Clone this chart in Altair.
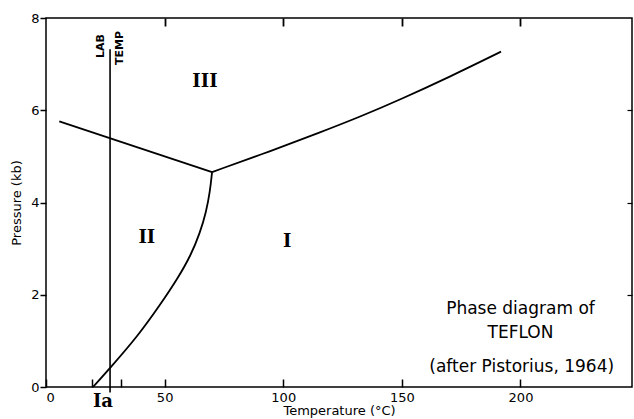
import altair as alt
import pandas as pd

# Phase boundaries (Temperature °C, Pressure kb)
t_ii_iii = [5.6, 70.0]
p_ii_iii = [5.76, 4.66]
t_iii_i = [70.0, 95.0, 115.5, 132.4, 149.2, 170.0, 191.8]
p_iii_i = [4.66, 5.12, 5.52, 5.86, 6.23, 6.72, 7.27]
t_ii_i = [19.8, 27.0, 38.8, 48.1, 55.6, 61.1, 64.9, 67.5, 69.1, 70.0]
p_ii_i = [0.0, 0.41, 1.11, 1.78, 2.36, 2.86, 3.34, 3.79, 4.23, 4.66]
t_lab = [27.0, 27.0]
p_lab = [-0.12, 7.32]

phase_labels = ["III", "II", "I", "Ia"]
phase_t = [67.0, 42.5, 101.7, 24.0]
phase_p = [6.61, 3.22, 3.14, -0.33]

note_lines = ["Phase diagram of", "TEFLON", "(after Pistorius, 1964)"]
note_t = [200.0, 200.0, 200.5]
note_p = [1.69, 1.17, 0.43]

lab_words = ["LAB", "TEMP"]
lab_t = [23.0, 31.0]
lab_p = [7.39, 7.35]

x_ticks = [0, 19.5, 31.5, 50, 100, 150, 200]
x_top_ticks = [50, 100, 150, 200]
y_ticks = [0, 2, 4, 6, 8]
y_right_ticks = [2, 4, 6]

rows = []
for name, ts, ps in [("a", t_ii_iii, p_ii_iii), ("b", t_iii_i, p_iii_i), ("c", t_ii_i, p_ii_i)]:
    for i, (t, p) in enumerate(zip(ts, ps)):
        rows.append({"series": name, "T": t, "P": p, "i": i})
lines_df = pd.DataFrame(rows)
lab_df = pd.DataFrame({"T": t_lab, "P": p_lab})
phase_df = pd.DataFrame({"label": phase_labels, "T": phase_t, "P": phase_p})
note_df = pd.DataFrame({"label": note_lines, "T": note_t, "P": note_p})
labw_df = pd.DataFrame({"label": lab_words, "T": lab_t, "P": lab_p})

xs = alt.Scale(domain=[0, 247], nice=False, zero=False)
ys = alt.Scale(domain=[0, 8], nice=False, zero=False)

FONT = "DejaVu Sans"

boundaries = alt.Chart(lines_df).mark_line(
    color="black", strokeWidth=1.8, interpolate="basis"
).encode(
    x=alt.X("T:Q", scale=xs, axis=alt.Axis(
        orient="bottom", values=x_ticks,
        labelExpr="datum.value % 50 == 0 ? datum.label : ''",
        offset=-8, tickSize=8, tickWidth=1.5, tickColor="black",
        domain=False, grid=False, labelPadding=4, labelFontSize=13,
        labelColor="black", labelFont=FONT,
        title="Temperature (°C)", titlePadding=0, titleFontSize=13,
        titleFontWeight="normal", titleFont=FONT, titleColor="black")),
    y=alt.Y("P:Q", scale=ys, axis=alt.Axis(
        orient="left", values=y_ticks, tickSize=6, tickWidth=1.5,
        tickColor="black", domain=False, grid=False, labelPadding=1,
        labelFontSize=13, labelColor="black", labelFont=FONT,
        title="Pressure (kb)", titlePadding=7, titleFontSize=13,
        titleFontWeight="normal", titleFont=FONT, titleColor="black")),
    detail="series:N",
    order="i:Q",
)

lab_line = alt.Chart(lab_df).mark_line(color="black", strokeWidth=1.6).encode(
    x=alt.X("T:Q", scale=xs, axis=alt.Axis(
        orient="top", values=x_top_ticks, offset=-8, tickSize=8,
        tickWidth=1.8, tickColor="black", labels=False, domain=False,
        grid=False, title=None)),
    y=alt.Y("P:Q", scale=ys, axis=alt.Axis(
        orient="right", values=y_right_ticks, offset=-5, tickSize=5,
        tickWidth=1.2, tickColor="black", labels=False, domain=False,
        grid=False, title=None)),
)

phases = alt.Chart(phase_df).mark_text(
    font="DejaVu Serif", fontSize=18, fontWeight="bold", color="black"
).encode(
    x=alt.X("T:Q", scale=xs, axis=None),
    y=alt.Y("P:Q", scale=ys, axis=None),
    text="label:N",
)

notes = alt.Chart(note_df).mark_text(
    font=FONT, fontSize=17, color="black"
).encode(
    x=alt.X("T:Q", scale=xs, axis=None),
    y=alt.Y("P:Q", scale=ys, axis=None),
    text="label:N",
)

labwords = alt.Chart(labw_df).mark_text(
    font=FONT, fontSize=11, fontWeight="bold", color="black", angle=270
).encode(
    x=alt.X("T:Q", scale=xs, axis=None),
    y=alt.Y("P:Q", scale=ys, axis=None),
    text="label:N",
)

chart = alt.layer(boundaries, lab_line, phases, notes, labwords).resolve_axis(
    x="independent", y="independent"
).properties(
    width=586, height=369,
    autosize=alt.AutoSizeParams(type="none"),
    padding={"left": 46, "top": 18, "right": 2, "bottom": 32},
    background="white",
).configure_view(stroke="black", strokeWidth=1.5)

chart.save("out.html", embed_options={"renderer": "svg", "actions": False})
